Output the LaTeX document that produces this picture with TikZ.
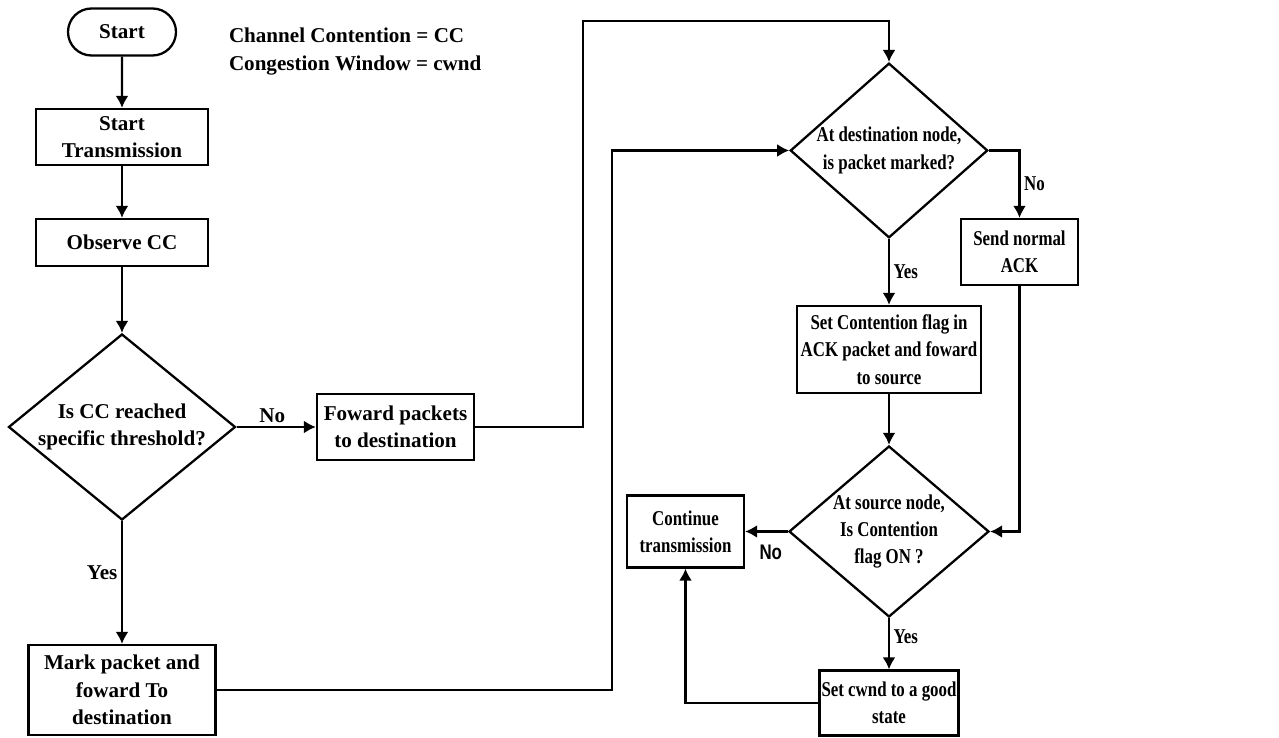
\documentclass[tikz,border=0pt]{standalone}
\usepackage{fontspec}
\setmainfont{Liberation Serif}
\setsansfont{Liberation Sans}
\usetikzlibrary{arrows.meta,shapes.geometric,shapes.misc}
\newcommand{\squeeze}[1]{\scalebox{0.8}[1]{#1}}
\begin{document}
\begin{tikzpicture}[>={Latex[length=2.4mm,width=2.6mm]}, line width=1.3pt,
		font=\fontsize{12}{15.6}\selectfont\bfseries,
		box/.style={draw, rectangle, align=center, inner sep=0pt},
		decision/.style={draw, diamond, align=center, inner sep=0pt},
		terminal/.style={draw, rounded rectangle, inner sep=0pt, minimum width=2.16cm, minimum height=0.94cm},
		lbl/.style={inner sep=2pt}]
		\useasboundingbox (0,0) rectangle (25.58,14.76);

		\node[terminal] (start) at (2.44,14.12) {Start};
		\node[anchor=west, align=left] (legend) at (4.44,13.73) {Channel Contention = CC\\Congestion Window = cwnd};
		\node[box, minimum width=3.44cm, minimum height=1.12cm] (sttx) at (2.44,12.02) {Start\\Transmission};
		\node[box, minimum width=3.44cm, minimum height=0.94cm] (obs) at (2.44,9.91) {Observe CC};
		\node[decision, minimum width=4.54cm, minimum height=3.72cm, aspect=1.22] (dec1) at (2.44,6.22) {Is CC reached\\specific threshold?};
		\node[box, minimum width=3.14cm, minimum height=1.32cm] (fwd) at (7.91,6.22) {Foward packets\\to destination};
		\node[box, minimum width=3.74cm, minimum height=1.80cm] (mark) at (2.44,0.96) {Mark packet and\\foward To\\destination};

		\node[decision, minimum width=3.86cm, minimum height=3.42cm, aspect=1.13] (dec2) at (17.78,11.75) {\squeeze{At destination node,}\\\squeeze{is packet marked?}};
		\node[box, minimum width=2.34cm, minimum height=1.32cm] (ack) at (20.39,9.72) {\squeeze{Send normal}\\\squeeze{ACK}};
		\node[box, minimum width=3.68cm, minimum height=1.74cm] (flag) at (17.78,7.77) {\squeeze{Set Contention flag in}\\\squeeze{ACK packet and foward}\\\squeeze{to source}};
		\node[decision, minimum width=4.0cm, minimum height=3.42cm, aspect=1.17] (dec3) at (17.78,4.13) {\squeeze{At source node,}\\\squeeze{Is Contention}\\\squeeze{flag ON ?}};
		\node[box, minimum width=2.34cm, minimum height=1.44cm] (cont) at (13.71,4.13) {\squeeze{Continue}\\\squeeze{transmission}};
		\node[box, minimum width=2.78cm, minimum height=1.30cm] (cwnd) at (17.78,0.70) {\squeeze{Set cwnd to a good}\\\squeeze{state}};

		\draw[->] (start) -- (sttx);
		\draw[->] (sttx) -- (obs);
		\draw[->] (obs) -- (dec1);
		\draw[->] (dec1) -- node[lbl, above, pos=0.45]{No} (fwd);
		\draw[->] (dec1) -- node[lbl, left, pos=0.42]{Yes} (mark);

		\coordinate (up) at (11.66,14.34);
		\draw[->] (fwd.east) -| (up) -| (dec2.north);
		\coordinate (back) at (12.24,0.96);
		\draw[->] (mark.east) -- (back) |- (dec2.west);

		\draw[->] (dec2.east) -| node[lbl, right, pos=0.75]{\squeeze{No}} (ack.north);
		\draw[->] (dec2) -- node[lbl, right]{\squeeze{Yes}} (flag);
		\draw[->] (flag) -- (dec3);
		\draw[->] (ack.south) |- (dec3.east);
		\draw[->] (dec3) -- node[lbl, below=5pt, pos=0.4]{\squeeze{\sffamily No}} (cont);
		\draw[->] (dec3) -- node[lbl, right, pos=0.37]{\squeeze{Yes}} (cwnd);
		\draw[->] (cwnd.west) -| (cont.south);
	\end{tikzpicture}
\end{document}
